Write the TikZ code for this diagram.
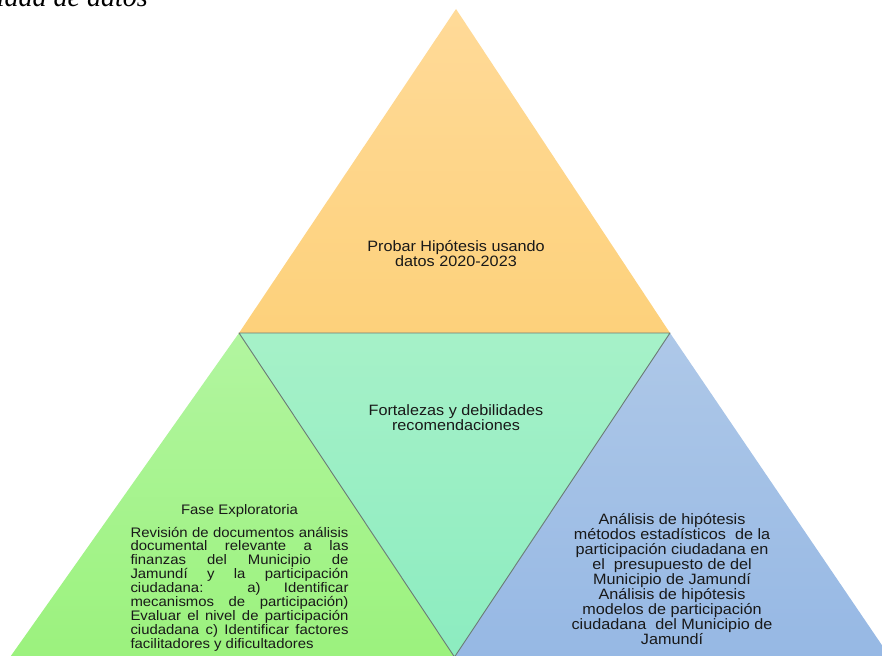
\documentclass[tikz,border=0pt]{standalone}
\usepackage{fontspec}
\newfontfamily\diagfont{Liberation Sans}[FakeStretch=1.08]
\newfontfamily\headfont{Liberation Serif}
\usepackage{xcolor}
\definecolor{colTopA}{HTML}{FFDA98}
\definecolor{colTopB}{HTML}{FDD17B}
\definecolor{colMidA}{HTML}{A6F1C8}
\definecolor{colMidB}{HTML}{8CECC0}
\definecolor{colLeftA}{HTML}{B2F5A0}
\definecolor{colLeftB}{HTML}{9BF27D}
\definecolor{colRightA}{HTML}{AEC8E8}
\definecolor{colRightB}{HTML}{96B8E4}
\definecolor{colEdge}{HTML}{6B7A75}
\usepackage{tikz}
\usetikzlibrary{calc}

\begin{document}
\begin{tikzpicture}[x=1pt, y=-1pt,
		blocktext/.style={font=\diagfont\fontsize{15}{13.6}\selectfont, text=black!90, align=center, inner sep=0pt}]
	\useasboundingbox (0,0) rectangle (882,655);
	\clip (0,0) rectangle (882,655);
	% corners of the triangles
	\coordinate (apex) at (456,9);
	\coordinate (baseL) at (239,333);
	\coordinate (baseR) at (670,333);
	\coordinate (tip) at (454.5,657);
	\shade[top color=colTopA, bottom color=colTopB] (apex) -- (baseL) -- (baseR) -- cycle;
	\shade[top color=colLeftA, bottom color=colLeftB] (baseL) -- (8,660) -- (456,660) -- (tip) -- cycle;
	\shade[top color=colRightA, bottom color=colRightB] (baseR) -- (tip) -- (456,660) -- (892,660) -- cycle;
	\shadedraw[top color=colMidA, bottom color=colMidB, draw=colEdge, line width=0.9pt, line join=round] (baseL) -- (baseR) -- (tip) -- cycle;
	% texts
	\node[font=\headfont\itshape\fontsize{28}{30}\selectfont, anchor=base east, inner sep=0pt] (heading) at (148,7) {idad de datos};
	\node[blocktext] (probar) at (456,254) {Probar Hipótesis usando\\datos 2020-2023};
	\node[blocktext] (fortalezas) at (456,418) {Fortalezas y debilidades\\recomendaciones};
	\node[blocktext, font=\diagfont\fontsize{13.8}{13.6}\selectfont] (faseTitle) at (239.5,511) {Fase Exploratoria};
	\node[blocktext, font=\diagfont\fontsize{13.8}{13.9}\selectfont, text width=218pt, align=justify] (faseBody) at (239.5,589)
		{Revisión de documentos análisis\linebreak documental relevante a las\linebreak finanzas del Municipio de\linebreak Jamundí y la participación\linebreak ciudadana: a) Identificar\linebreak mecanismos de participación)\linebreak Evaluar el nivel de participación\linebreak ciudadana c) Identificar factores\linebreak facilitadores y dificultadores};
	\node[blocktext, font=\diagfont\fontsize{15}{15.1}\selectfont] (analisis) at (672,579)
		{Análisis de hipótesis\\métodos estadísticos~ de la\\participación ciudadana en\\el~ presupuesto de del\\Municipio de Jamundí\\Análisis de hipótesis\\modelos de participación\\ciudadana~ del Municipio de\\Jamundí};
\end{tikzpicture}
\end{document}
